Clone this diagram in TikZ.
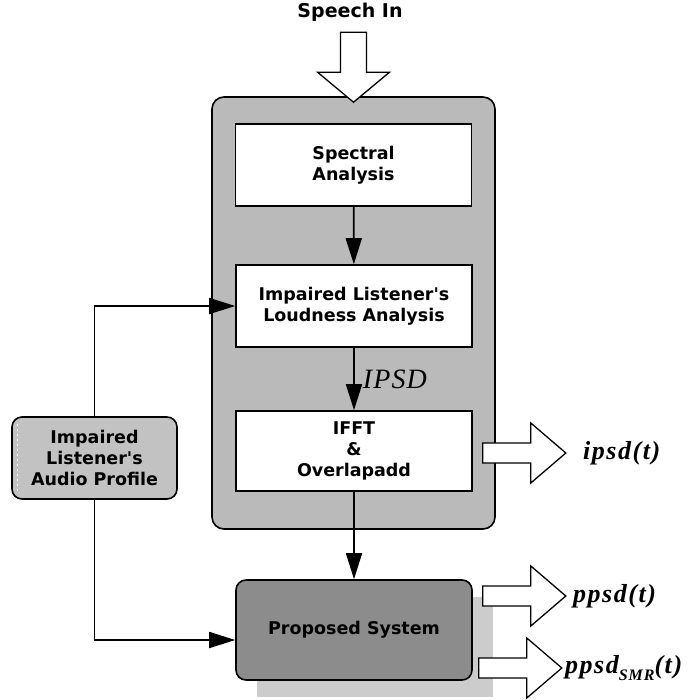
\documentclass[tikz,border=0pt]{standalone}
\usepackage{fontspec}
\setmainfont{Liberation Serif}
\newfontfamily\blockfont{DejaVu Sans}
\newfontfamily\sigfont[LetterSpace=6]{Liberation Serif}
\newfontfamily\specfont[LetterSpace=4]{Liberation Serif}
\usetikzlibrary{arrows.meta}

\begin{document}
\begin{tikzpicture}[x=1pt, y=-1pt,
  boxtext/.style={font=\blockfont\bfseries\fontsize{17.5}{21}\selectfont, align=center},
  panel/.style={draw, line width=1.6pt, fill=black!27, rounded corners=12pt},
  stage/.style={boxtext, draw, line width=1.6pt, fill=white, minimum width=236, inner sep=0pt},
  profilebox/.style={boxtext, draw, line width=1.6pt, fill=black!24, rounded corners=10pt,
    minimum width=165, minimum height=82, inner sep=0pt},
  propbox/.style={boxtext, draw, line width=1.6pt, fill=black!45, rounded corners=10pt,
    minimum width=236, minimum height=100, inner sep=0pt},
  shadowbox/.style={fill=black!20, minimum width=236, minimum height=100, inner sep=0pt},
  flow/.style={line width=1.8pt, -{Triangle[length=26pt, width=16pt]}},
  hollow/.style={draw, line width=1.3pt, fill=white, line join=miter},
  siglabel/.style={font=\sigfont\bfseries\itshape\fontsize{26}{28}\selectfont, anchor=west, inner sep=0pt},
]
\useasboundingbox (0,0) rectangle (700,700);

% processing panel and its stages
\node[panel, minimum width=283, minimum height=432] (core) at (353.5,313) {};
\node[stage, minimum height=82] (spec) at (353.5,165) {Spectral\\Analysis};
\node[stage, minimum height=82] (loud) at (354,306) {Impaired Listener's\\Loudness Analysis};
\node[stage, minimum height=80] (ifft) at (354,451) {IFFT\\\&\\Overlapadd};

% proposed system with its drop shadow
\node[shadowbox] (shade) at (375,647) {};
\node[propbox] (prop) at (354,630) {Proposed System};

% listener profile, with its stippled left edge
\node[profilebox] (prof) at (94.5,458) {Impaired\\Listener's\\Audio Profile};
\draw[white, line width=1.2pt, dash pattern=on 2pt off 3pt]
  ([xshift=6pt, yshift=-8pt]prof.north west) -- ([xshift=6pt, yshift=8pt]prof.south west);

% input label
\node[boxtext, font=\blockfont\bfseries\fontsize{19}{22}\selectfont] (speech) at (350,12) {Speech In};

% signal flow
\draw[flow] (spec) -- (loud);
\draw[flow] (loud) -- node[right, inner sep=8pt, font=\specfont\itshape\fontsize{28}{30}\selectfont] (ipsdtag) {IPSD} (ifft);
\draw[flow] (ifft) -- (prop);
\draw[flow] (prof.north) |- (loud.west);
\draw[flow] (prof.south) |- ([yshift=-10pt]prop.west);

% hollow input arrow
\coordinate (intip) at ([yshift=-6pt]core.north);
\draw[hollow] (intip) -- ++(-36,-30) -- ++(23,0) -- ++(0,-40) -- ++(26,0)
  -- ++(0,40) -- ++(23,0) -- cycle;

% hollow output arrows
\coordinate (out1) at ([xshift=10pt, yshift=-2pt]ifft.east);
\coordinate (out2) at ([xshift=10pt, yshift=34pt]prop.east);
\coordinate (out3) at ([xshift=6pt, yshift=-38pt]prop.east);
\foreach \o in {out1,out2,out3}
  \draw[hollow] (\o) ++(0,-10) -- ++(48,0) -- ++(0,-20) -- ++(35,30)
    -- ++(-35,30) -- ++(0,-20) -- ++(-48,0) -- cycle;

\node[siglabel] (sig1) at ([xshift=100pt]out1) {ipsd(t)};
\node[siglabel] (sig2) at ([xshift=90pt]out2) {ppsd(t)};
\node[siglabel] (sig3) at ([xshift=86pt]out3)
  {ppsd\raisebox{-7pt}{\fontsize{16}{16}\selectfont SMR}(t)};
\end{tikzpicture}
\end{document}
